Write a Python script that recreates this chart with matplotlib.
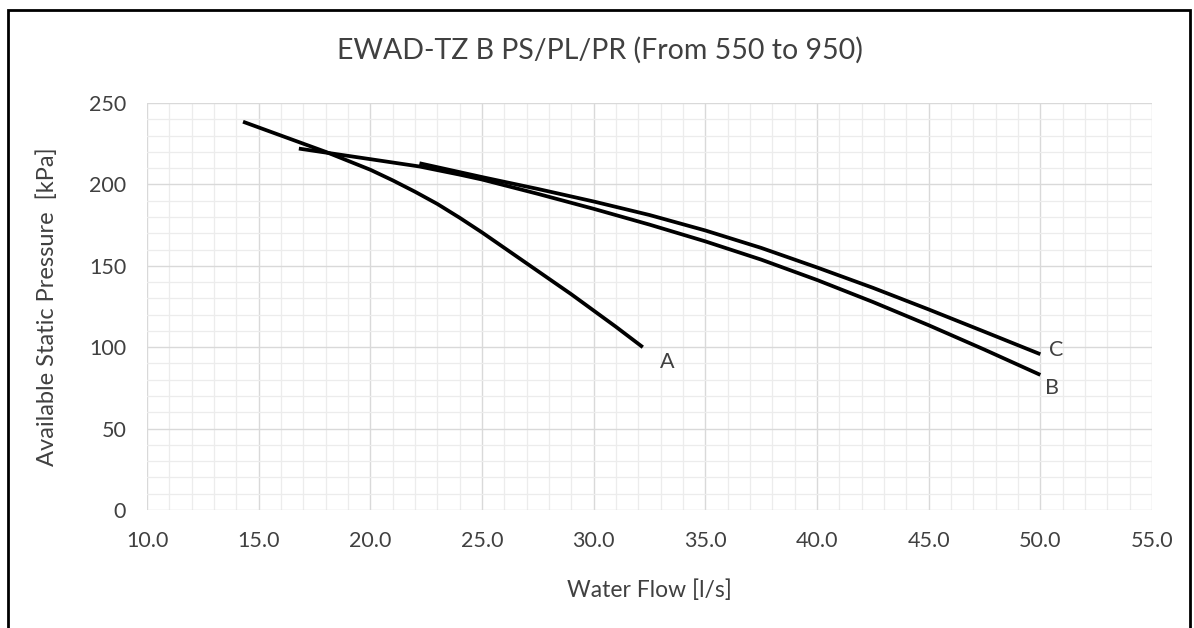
import matplotlib
matplotlib.use("Agg")
import matplotlib.pyplot as plt
from matplotlib.ticker import MultipleLocator, FormatStrFormatter
from matplotlib.patches import Rectangle

# Data
a_flow = [14.3, 16.0, 18.0, 19.0, 20.0, 21.0, 22.0, 23.0, 24.0, 25.0, 26.0, 27.0, 28.0, 29.0, 30.0, 31.0, 32.2]
a_press = [238.5, 230.0, 220.0, 214.5, 209.0, 202.5, 195.5, 188.0, 179.5, 170.5, 161.0, 151.5, 142.0, 132.5, 122.5, 112.5, 100.0]
b_flow = [16.8, 20.0, 22.2, 24.0, 25.0, 27.5, 30.0, 32.5, 35.0, 37.5, 40.0, 42.5, 45.0, 47.5, 50.0]
b_press = [222.0, 215.5, 211.0, 206.0, 203.0, 194.2, 185.0, 175.3, 165.0, 153.8, 141.3, 127.8, 113.5, 98.5, 83.0]
c_flow = [22.2, 25.0, 27.5, 30.0, 32.5, 35.0, 37.5, 40.0, 42.5, 45.0, 47.5, 50.0]
c_press = [213.0, 204.5, 197.2, 189.5, 181.2, 171.7, 161.0, 149.0, 136.5, 123.2, 109.5, 95.7]
curve_labels = ["A", "B", "C"]
label_pos_x = [33.3, 50.5, 50.7]
label_pos_y = [91.0, 75.0, 98.0]

title = "EWAD-TZ B PS/PL/PR (From 550 to 950)"
x_title = "Water Flow [l/s]"
y_title = "Available Static Pressure  [kPa]"

plt.rcParams['font.family'] = ['Lato', 'DejaVu Sans']
txt = "#404040"

fig = plt.figure(figsize=(11.94, 6.28), dpi=100)
ax = fig.add_axes([147/1194, 1-510/628, (1152-147)/1194, (510-103)/628])

for xs, ys in [(a_flow, a_press), (b_flow, b_press), (c_flow, c_press)]:
    ax.plot(xs, ys, color="black", lw=2.7, solid_capstyle="butt",
            solid_joinstyle="round", zorder=3)

for lab, lx, ly in zip(curve_labels, label_pos_x, label_pos_y):
    ax.text(lx, ly, lab, fontsize=15.5, color=txt, ha="center", va="center", zorder=4)

ax.set_xlim(10, 55)
ax.set_ylim(0, 250)
ax.xaxis.set_major_locator(MultipleLocator(5))
ax.xaxis.set_minor_locator(MultipleLocator(1))
ax.yaxis.set_major_locator(MultipleLocator(50))
ax.yaxis.set_minor_locator(MultipleLocator(10))
ax.xaxis.set_major_formatter(FormatStrFormatter("%.1f"))
ax.grid(which="major", color="#d9d9d9", lw=1.0, zorder=0)
ax.grid(which="minor", color="#ececec", lw=0.9, zorder=0)
ax.set_axisbelow(True)
for s in ax.spines.values():
    s.set_visible(False)
ax.tick_params(which="both", length=0, labelsize=15.5, labelcolor=txt)
ax.tick_params(axis="x", pad=15)
ax.tick_params(axis="y", pad=15)

ax.set_xlabel(x_title, fontsize=16.5, color=txt)
ax.set_ylabel(y_title, fontsize=17, color=txt)
ax.xaxis.set_label_coords(0.5, (510-590)/407)
ax.yaxis.set_label_coords((47-147)/1005, 0.5)
ax.xaxis.label.set_va("center")
ax.yaxis.label.set_va("center")
fig.text(0.5025, 1-50/628, title, fontsize=20.5, color=txt, ha="center", va="center")

fig.patches.append(Rectangle((8/1194, -0.1), (1190-8)/1194, 1.1-10/628,
                             transform=fig.transFigure, fill=False,
                             edgecolor="black", lw=2.0, zorder=10))

fig.savefig("out.png", dpi=100, facecolor="white")
